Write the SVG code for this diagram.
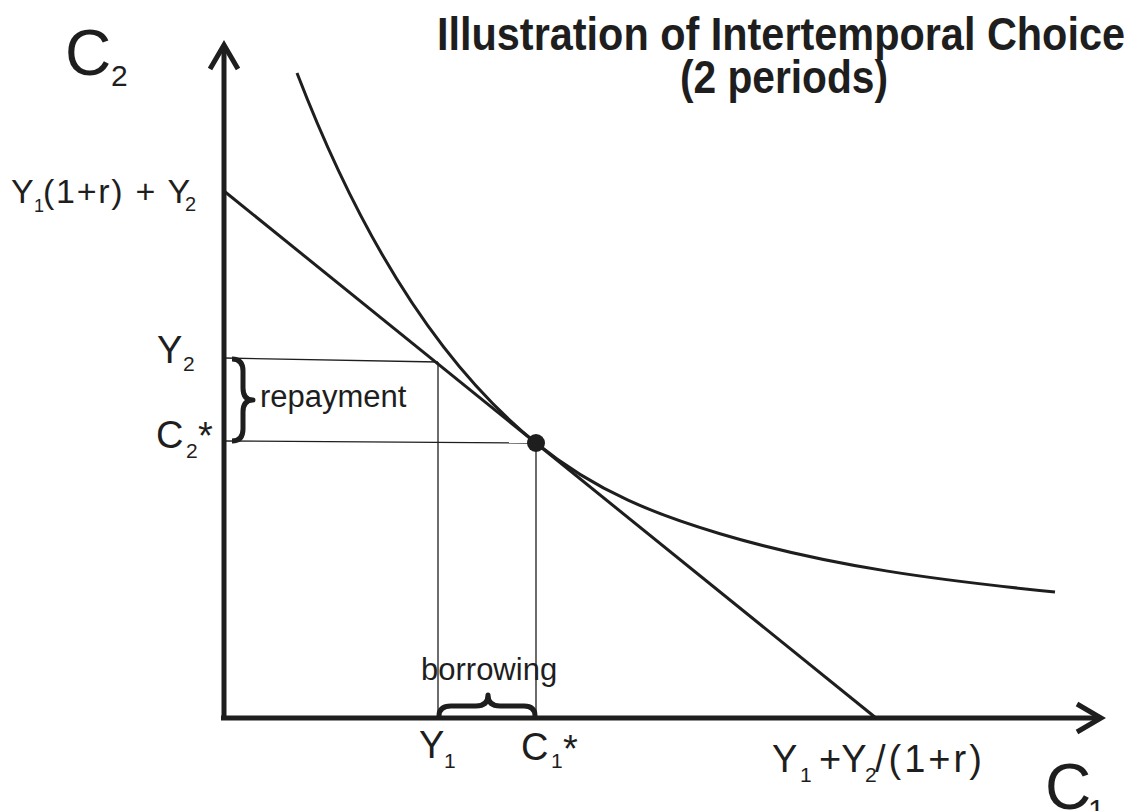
<svg xmlns="http://www.w3.org/2000/svg" width="1136" height="811" viewBox="0 0 1136 811">
<style>
text{font-family:"Liberation Sans",Arial,sans-serif;fill:#1e1e1e}
.title{font-weight:bold;font-size:46px;text-anchor:middle}
.axis{stroke:#1e1e1e;stroke-width:5;fill:none}
.thick{stroke:#1e1e1e;stroke-width:3;fill:none}
.thin{stroke:#1e1e1e;stroke-width:1.3;fill:none}
.brace{stroke:#1e1e1e;stroke-width:5;fill:none;stroke-linejoin:round}
.big{font-size:64px}
.bigsub{font-size:30px}
.lbl{font-size:38px}
.sub{font-size:21px}
.word{font-size:31px}
</style>
<defs>
<marker id="arr" markerUnits="userSpaceOnUse" markerWidth="40" markerHeight="40" viewBox="-30 -20 40 40" refX="0" refY="0" orient="auto" overflow="visible">
<path d="M-24,-14 L0,0 L-24,14" fill="none" stroke="#1e1e1e" stroke-width="5"/>
</marker>
</defs>
<g id="title">
<text class="title" x="781" y="50" textLength="688" lengthAdjust="spacingAndGlyphs">Illustration of Intertemporal Choice</text>
<text class="title" x="784" y="93" textLength="208" lengthAdjust="spacingAndGlyphs">(2 periods)</text>
</g>
<g id="connectors">
<line class="axis" x1="224" y1="720" x2="224" y2="45" marker-end="url(#arr)"/>
<line class="axis" x1="221" y1="718" x2="1101" y2="718" marker-end="url(#arr)"/>
<line class="thick" x1="224" y1="191" x2="876" y2="718"/>
<path class="thick" d="M297,73 C357,229 436,362 536,443 C597.3,492.9 658.7,515.4 720,533.7 C831.7,567.1 943.3,580.7 1055,592"/>
<line class="thin" x1="224" y1="358" x2="438" y2="362"/>
<line class="thin" x1="224" y1="441" x2="536" y2="443"/>
<line class="thin" x1="438" y1="362" x2="438" y2="718"/>
<line class="thin" x1="536" y1="443" x2="536" y2="718"/>
</g>
<g id="optimum">
<circle cx="536" cy="443" r="9" fill="#1e1e1e"/>
</g>
<g id="repayment">
<path class="brace" d="M232,359 Q243,359 243,371 L243,388 Q243,400 253,400 Q243,400 243,412 L243,429 Q243,441 232,441"/>
<text class="word" x="260" y="407">repayment</text>
</g>
<g id="borrowing">
<path class="brace" d="M439,716 Q439,706 451,706 L476,706 Q488,706 488,695 Q488,706 500,706 L524,706 Q535,706 535,716"/>
<text class="word" x="421" y="680">borrowing</text>
</g>
<g id="axis-c2">
<text><tspan class="big" x="65" y="75">C</tspan><tspan class="bigsub" x="111" y="86">2</tspan></text>
</g>
<g id="axis-c1">
<text><tspan class="big" x="1045" y="809">C</tspan><tspan class="bigsub" x="1088" y="820">1</tspan></text>
</g>
<g id="label-intercept-y">
<text style="font-size:34px"><tspan x="11" y="203">Y</tspan><tspan style="font-size:18px" x="34" y="212">1</tspan><tspan x="43" y="203" style="letter-spacing:1.7px">(1+r) + Y</tspan><tspan style="font-size:20px" x="185" y="211">2</tspan></text>
</g>
<g id="label-y2">
<text class="lbl"><tspan x="157" y="363">Y</tspan><tspan class="sub" x="183" y="371">2</tspan></text>
</g>
<g id="label-c2star">
<text class="lbl"><tspan x="156" y="448">C</tspan><tspan class="sub" x="186" y="458">2</tspan><tspan x="198" y="449">*</tspan></text>
</g>
<g id="label-y1">
<text class="lbl"><tspan x="419" y="758">Y</tspan><tspan class="sub" x="444" y="768">1</tspan></text>
</g>
<g id="label-c1star">
<text class="lbl"><tspan x="521" y="760">C</tspan><tspan class="sub" x="551" y="768">1</tspan><tspan x="563" y="762">*</tspan></text>
</g>
<g id="label-intercept-x">
<text class="lbl"><tspan x="772" y="772">Y</tspan><tspan class="sub" x="800" y="782">1</tspan><tspan x="819" y="772">+Y</tspan><tspan class="sub" x="865" y="782">2</tspan><tspan x="875" y="772" style="letter-spacing:3px">/(1+r)</tspan></text>
</g>
</svg>
